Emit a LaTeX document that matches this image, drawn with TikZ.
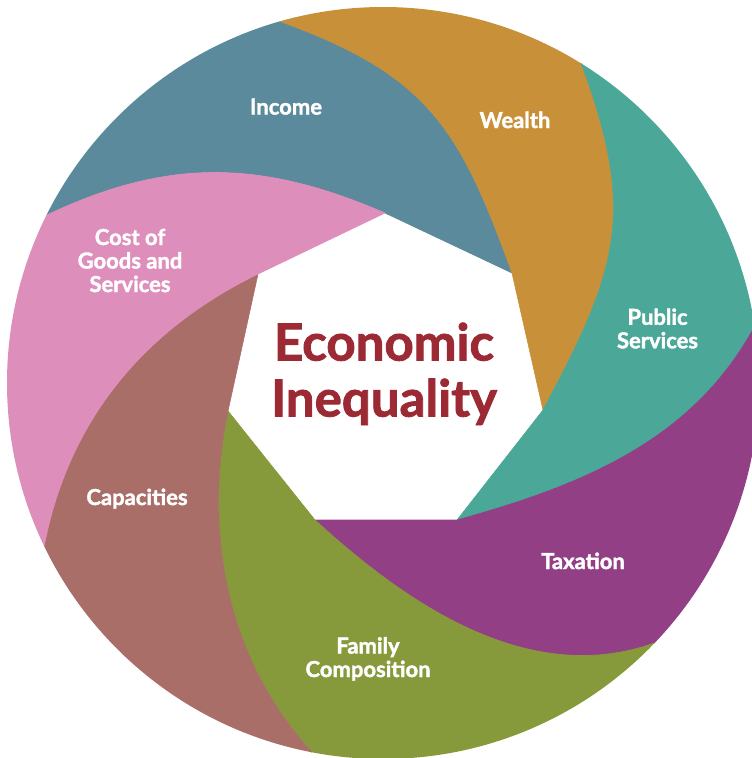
\documentclass[tikz,border=0pt]{standalone}
\usepackage{fontspec}
\setmainfont{Lato}
\newfontfamily\heavyfont{Lato}[FakeBold=1.7]
\definecolor{cInc}{HTML}{5A8A9B}
\definecolor{cWea}{HTML}{C9903A}
\definecolor{cPub}{HTML}{4BA898}
\definecolor{cTax}{HTML}{923F86}
\definecolor{cFam}{HTML}{879A3B}
\definecolor{cCap}{HTML}{AA6E69}
\definecolor{cCost}{HTML}{DE8EBA}
\definecolor{cTitle}{HTML}{9C2A35}
\begin{document}
\begin{tikzpicture}[x=1pt,y=-1pt,
  seg/.style={fill=#1,draw=#1,line width=0.6pt,line join=round},
  lbl/.style={text=white,font=\heavyfont\bfseries\fontsize{22}{23.5}\selectfont,align=center,anchor=base,inner sep=0pt},
  ttl/.style={text=cTitle,font=\heavyfont\bfseries\fontsize{51}{56}\selectfont,align=center,anchor=base,inner sep=0pt}]
\useasboundingbox (0,0) rectangle (752,758);
% heptagon corners and rim points
\coordinate (Vt) at (385,213);   \coordinate (Vur) at (512,273);
\coordinate (Vr) at (543,410);   \coordinate (Vlr) at (457,520);
\coordinate (Vll) at (315,520);  \coordinate (Vl) at (228,411);
\coordinate (Vul) at (258,274);
\coordinate (P1) at (280,21.4);  \coordinate (P2) at (581.2,63.4);
\coordinate (P3) at (754.7,326.1); \coordinate (P4) at (654.8,642.8);
\coordinate (P5) at (311.9,752.2); \coordinate (P6) at (44.2,546.1);
\coordinate (P7) at (46.5,215.2);
\coordinate (F1) at (218.6,-194.0); \coordinate (F2) at (699.2,-126.9);
\coordinate (F3) at (976.1,292.2);  \coordinate (F4) at (816.8,797.5);
\coordinate (F5) at (269.5,972.2);  \coordinate (F6) at (-157.7,643.2);
\coordinate (F7) at (-153.9,115.3);
\begin{scope}
\clip (383,383) circle[radius=376pt];
% Income
\path[seg=cInc] (Vt) -- (Vur)
  .. controls (459.6,128.1) and (428.3,75.1) .. (P1) -- (F1) -- (F7) -- (P7)
  .. controls (167.4,157.6) and (261.6,159.6) .. (Vt) -- cycle;
% Wealth
\path[seg=cWea] (Vur) -- (Vr)
  .. controls (617.4,270.8) and (637.3,214.0) .. (P2) -- (F2) -- (F1) -- (P1)
  .. controls (428.3,75.1) and (459.6,128.1) .. (Vur) -- cycle;
% Public Services
\path[seg=cPub] (Vr) -- (Vlr)
  .. controls (578.8,486.0) and (691.9,442.5) .. (P3) -- (F3) -- (F2) -- (P2)
  .. controls (637.3,214.0) and (617.4,270.8) .. (Vr) -- cycle;
% Taxation
\path[seg=cTax] (Vlr) -- (Vll)
  .. controls (403.1,600.6) and (527.0,689.0) .. (P4) -- (F4) -- (F3) -- (P3)
  .. controls (691.9,442.5) and (578.8,486.0) .. (Vlr) -- cycle;
% Family Composition
\path[seg=cFam] (Vll) -- (Vl)
  .. controls (203.1,532.6) and (226.5,659.1) .. (P5) -- (F5) -- (F4) -- (P4)
  .. controls (527.0,689.0) and (403.1,600.6) .. (Vll) -- cycle;
% Capacities
\path[seg=cCap] (Vl) -- (Vul)
  .. controls (144.4,329.5) and (68.7,419.2) .. (P6) -- (F6) -- (F5) -- (P5)
  .. controls (226.5,659.1) and (203.1,532.6) .. (Vl) -- cycle;
% Cost of Goods and Services
\path[seg=cCost] (Vul) -- (Vt)
  .. controls (261.6,159.6) and (167.4,157.6) .. (P7) -- (F7) -- (F6) -- (P6)
  .. controls (68.7,419.2) and (144.4,329.5) .. (Vul) -- cycle;
\end{scope}
\node[lbl] (income) at (286,114.5) {Income};
\node[lbl] (wealth) at (515,128) {Wealth};
\node[lbl] (public) at (657.5,348.3) {Public\\Services};
\node[lbl] (taxation) at (583,569) {Taxation};
\node[lbl] (family) at (368,677) {Family\\Composition};
\node[lbl] (capacities) at (137,505) {Capacities};
\node[lbl] (cost) at (130,292) {Cost of\\Goods and\\Services};
\node[ttl] (title) at (384,416.5) {Economic\\Inequality};
\end{tikzpicture}
\end{document}
